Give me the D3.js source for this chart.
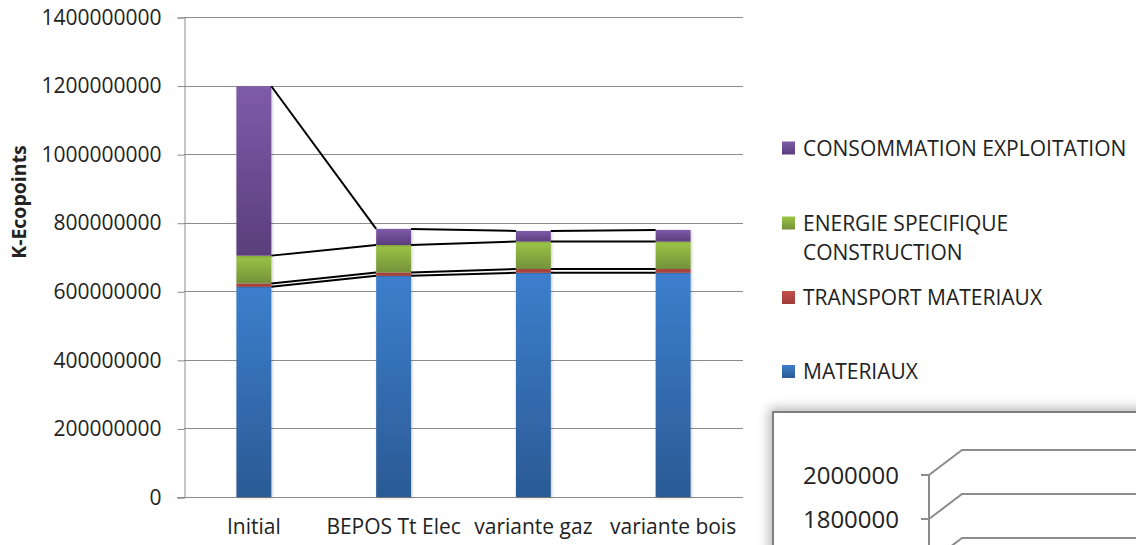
<!DOCTYPE html>
<html>
<head>
<meta charset="utf-8">
<script src="https://cdn.jsdelivr.net/npm/d3@7"></script>
<style>
  html, body { margin: 0; padding: 0; background: #fff; }
  svg { display: block; }
  text { font-family: "Open Sans", "Noto Sans", sans-serif; fill: #222; }
</style>
</head>
<body>
<svg id="chart" width="1136" height="545"></svg>
<script>
// Scenarios compared
const categories = ["Initial", "BEPOS Tt Elec", "variante gaz", "variante bois"];

// Stacked impact per scenario (K-Ecopoints), bottom to top
const materiaux    = [613e6, 645e6, 654e6, 654e6];
const transport    = [10e6, 10e6, 11e6, 11e6];
const energie      = [81e6, 80e6, 80e6, 80e6];
const consommation = [494e6, 47e6, 31e6, 34e6];

const seriesNames = ["MATERIAUX", "TRANSPORT MATERIAUX", "ENERGIE SPECIFIQUE CONSTRUCTION", "CONSOMMATION EXPLOITATION"];
const yTicks = [0, 200e6, 400e6, 600e6, 800e6, 1000e6, 1200e6, 1400e6];

// Secondary chart (partially visible): gridline values and the labels shown
const insetTicks = [2000000, 1800000, 1600000];
const insetLabels = [2000000, 1800000];

const seriesValues = [materiaux, transport, energie, consommation];
const palette = [
  { top: "#3c7fcd", bottom: "#2b5a94" },
  { top: "#c4504c", bottom: "#a03c39" },
  { top: "#9cc546", bottom: "#74913a" },
  { top: "#7e5ba9", bottom: "#5a3e7c" }
];

const rows = categories.map((c, i) => {
  const r = { category: c };
  seriesNames.forEach((s, k) => { r[s] = seriesValues[k][i]; });
  return r;
});
const stacked = d3.stack().keys(seriesNames)(rows);

const svg = d3.select("#chart");
const defs = svg.append("defs");

palette.forEach((p, k) => {
  const g = defs.append("linearGradient")
    .attr("id", "grad" + k).attr("x1", 0).attr("y1", 0).attr("x2", 0).attr("y2", 1);
  g.append("stop").attr("offset", "0%").attr("stop-color", p.top);
  g.append("stop").attr("offset", "100%").attr("stop-color", p.bottom);
});

const barShadow = defs.append("filter").attr("id", "barShadow")
  .attr("x", "-30%").attr("y", "-10%").attr("width", "160%").attr("height", "120%");
barShadow.append("feDropShadow").attr("dx", 1).attr("dy", 1)
  .attr("stdDeviation", 1.6).attr("flood-color", "#000").attr("flood-opacity", 0.22);

const boxShadow = defs.append("filter").attr("id", "boxShadow")
  .attr("x", "-20%").attr("y", "-20%").attr("width", "140%").attr("height", "140%");
boxShadow.append("feGaussianBlur").attr("stdDeviation", 6);

// Main plot geometry
const plot = { left: 184, right: 743, top: 17, bottom: 497 };

const x = d3.scaleBand().domain(categories).range([plot.left, plot.right]).paddingInner(0).paddingOuter(0);
const barW = x.bandwidth() * 0.25;
const barX = c => x(c) + (x.bandwidth() - barW) / 2;

const y = d3.scaleLinear().domain([0, 1400e6]).range([plot.bottom, plot.top]);

// Horizontal gridlines
svg.append("g").selectAll("line").data(yTicks.filter(t => t > 0)).join("line")
  .attr("x1", plot.left).attr("x2", plot.right)
  .attr("y1", d => Math.round(y(d)) + 0.5).attr("y2", d => Math.round(y(d)) + 0.5)
  .attr("stroke", "#8c8c8c").attr("stroke-width", 1);

// Value axis
const yAxis = svg.append("g").attr("transform", `translate(${plot.left + 0.5},0.5)`)
  .call(d3.axisLeft(y).tickValues(yTicks).tickFormat(d3.format("d")).tickSize(7).tickPadding(16));
yAxis.select(".domain").attr("stroke", "#8c8c8c");
yAxis.selectAll(".tick line").attr("stroke", "#8c8c8c");
yAxis.selectAll(".tick text")
  .attr("font-family", "Open Sans").attr("font-size", 21).attr("fill", "#222");

// Category axis line
const xAxis = svg.append("g").attr("transform", `translate(0,${plot.bottom + 0.5})`)
  .call(d3.axisBottom(x).tickSize(0).tickPadding(22));
xAxis.select(".domain").attr("stroke", "#8c8c8c").attr("d", `M${plot.left - 7},0H${plot.right}`);
xAxis.selectAll(".tick text")
  .attr("font-family", "Open Sans").attr("font-size", 21).attr("fill", "#222");

// Axis title
svg.append("text")
  .attr("transform", "translate(26,202) rotate(-90)")
  .attr("text-anchor", "middle")
  .attr("font-weight", "bold").attr("font-size", 19.5).attr("fill", "#111")
  .text("K-Ecopoints");

// Stacked bars
const barsG = svg.append("g");
stacked.forEach((layer, k) => {
  barsG.append("g").selectAll("rect").data(layer).join("rect")
    .attr("x", d => barX(d.data.category))
    .attr("width", barW)
    .attr("y", d => y(d[1]))
    .attr("height", d => y(d[0]) - y(d[1]))
    .attr("fill", `url(#grad${k})`)
    .attr("filter", "url(#barShadow)");
});

// Series lines joining segment tops between neighbouring bars
const linesG = svg.append("g");
stacked.forEach(layer => {
  for (let i = 0; i < layer.length - 1; i++) {
    const a = layer[i], b = layer[i + 1];
    linesG.append("line")
      .attr("x1", barX(a.data.category) + barW)
      .attr("y1", y(a[1]))
      .attr("x2", barX(b.data.category))
      .attr("y2", y(b[1]))
      .attr("stroke", "#000").attr("stroke-width", 2);
  }
});

// Legend
const legendItems = [
  { k: 3, lines: ["CONSOMMATION EXPLOITATION"], cy: 148 },
  { k: 2, lines: ["ENERGIE SPECIFIQUE", "CONSTRUCTION"], cy: 223 },
  { k: 1, lines: ["TRANSPORT MATERIAUX"], cy: 297.5 },
  { k: 0, lines: ["MATERIAUX"], cy: 371.5 }
];
const legend = svg.append("g");
legendItems.forEach(it => {
  legend.append("rect")
    .attr("x", 782).attr("y", it.cy - 6.5).attr("width", 13).attr("height", 13)
    .attr("fill", `url(#grad${it.k})`);
  it.lines.forEach((ln, j) => {
    legend.append("text")
      .attr("x", 803).attr("y", it.cy + 7.5 + j * 29)
      .attr("font-size", 21).attr("fill", "#222")
      .text(ln);
  });
});

// Secondary chart frame, cut off by the page edge
const box = { x: 773, y: 412, w: 420, h: 200 };
svg.append("rect")
  .attr("x", box.x - 4).attr("y", box.y - 4).attr("width", box.w).attr("height", box.h)
  .attr("fill", "#000").attr("opacity", 0.28).attr("filter", "url(#boxShadow)");
svg.append("rect")
  .attr("x", box.x).attr("y", box.y).attr("width", box.w).attr("height", box.h)
  .attr("fill", "#fff").attr("stroke", "#7f7f7f").attr("stroke-width", 2);

const yi = d3.scaleLinear().domain([1800000, 2000000]).range([519, 475]);
const insetAxisX = 929, depthX = 33, depthY = 25;
const inset = svg.append("g");

inset.append("line")
  .attr("x1", insetAxisX).attr("x2", insetAxisX)
  .attr("y1", yi(2000000)).attr("y2", 560)
  .attr("stroke", "#8c8c8c").attr("stroke-width", 2);

inset.selectAll("path.grid").data(insetTicks).join("path")
  .attr("class", "grid")
  .attr("d", d => `M${insetAxisX},${yi(d)}L${insetAxisX + depthX},${yi(d) - depthY}H1140`)
  .attr("fill", "none").attr("stroke", "#8c8c8c").attr("stroke-width", 2);

inset.selectAll("line.tick").data(insetTicks).join("line")
  .attr("class", "tick")
  .attr("x1", insetAxisX - 8).attr("x2", insetAxisX)
  .attr("y1", d => yi(d)).attr("y2", d => yi(d))
  .attr("stroke", "#8c8c8c").attr("stroke-width", 2);

inset.selectAll("text").data(insetLabels).join("text")
  .attr("x", 899).attr("y", d => yi(d) + 9)
  .attr("text-anchor", "end")
  .attr("font-size", 24).attr("fill", "#222")
  .text(d => d3.format("d")(d));
</script>
</body>
</html>
